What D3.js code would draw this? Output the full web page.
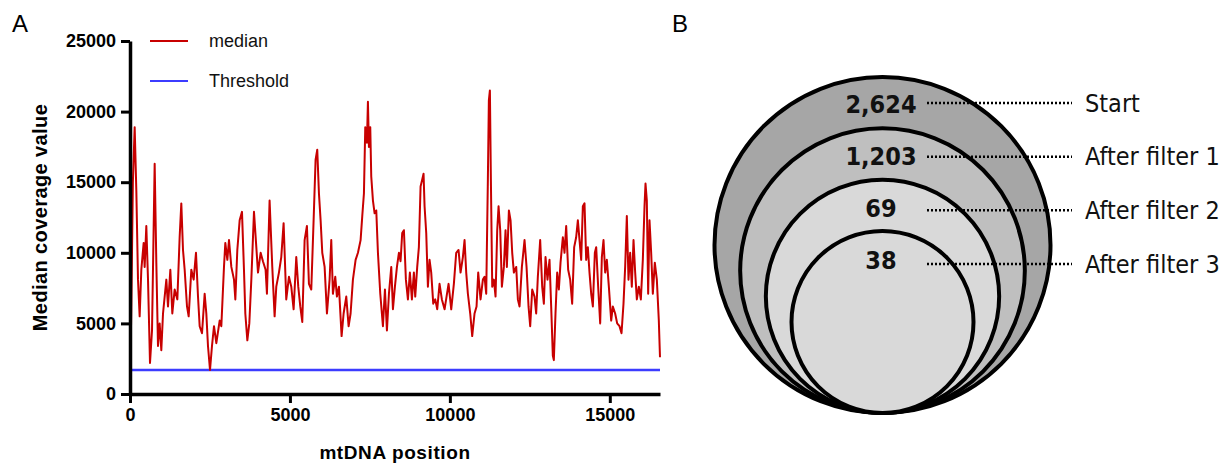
<!DOCTYPE html>
<html>
<head>
<meta charset="utf-8">
<script src="https://cdn.jsdelivr.net/npm/d3@7"></script>
<style>
  body { margin: 0; background: #fff; }
  svg { display: block; }
</style>
</head>
<body>
<div id="chart"></div>
<script>
// panel A: median coverage along the mtDNA
const positions = [
  0, 40, 90, 146, 198, 250, 302, 354, 427, 458, 510, 563, 625, 688, 771, 823, 875, 927, 979, 1032,
  1136, 1188, 1261, 1323, 1396, 1480, 1552, 1604, 1657, 1709, 1782, 1834, 1917, 1990, 2063, 2126, 2178, 2251, 2334, 2386,
  2438, 2501, 2563, 2626, 2699, 2803, 2855, 2938, 2980, 3043, 3095, 3168, 3251, 3293, 3355, 3428, 3501, 3563, 3605, 3668,
  3730, 3793, 3876, 3949, 4001, 4084, 4156, 4239, 4281, 4364, 4448, 4521, 4573, 4656, 4729, 4802, 4885, 4969, 5042, 5115,
  5198, 5260, 5323, 5386, 5459, 5531, 5594, 5667, 5740, 5802, 5854, 5907, 5959, 6011, 6084, 6157, 6240, 6292, 6344, 6417,
  6469, 6532, 6615, 6678, 6761, 6834, 6896, 6969, 7053, 7126, 7209, 7261, 7313, 7355, 7407, 7438, 7470, 7511, 7542, 7595,
  7647, 7699, 7751, 7824, 7907, 7970, 8032, 8095, 8168, 8220, 8282, 8345, 8407, 8458, 8510, 8563, 8625, 8688, 8750, 8813,
  8875, 8917, 8979, 9031, 9084, 9136, 9177, 9209, 9261, 9313, 9365, 9417, 9480, 9542, 9605, 9677, 9750, 9834, 9896, 9959,
  10042, 10125, 10198, 10271, 10334, 10407, 10459, 10511, 10563, 10636, 10698, 10771, 10834, 10886, 10959, 11032, 11084, 11136, 11188, 11219,
  11251, 11282, 11324, 11375, 11428, 11480, 11522, 11574, 11626, 11688, 11740, 11782, 11845, 11897, 11949, 12001, 12074, 12126, 12178, 12251,
  12334, 12397, 12459, 12511, 12574, 12646, 12698, 12750, 12823, 12886, 12938, 12990, 13052, 13115, 13167, 13219, 13250, 13302, 13355, 13407,
  13459, 13532, 13584, 13636, 13698, 13761, 13823, 13886, 13948, 14001, 14053, 14105, 14157, 14209, 14261, 14313, 14365, 14418, 14470, 14532,
  14574, 14636, 14699, 14751, 14803, 14855, 14907, 14970, 15043, 15095, 15167, 15230, 15303, 15366, 15428, 15480, 15532, 15584, 15636, 15688,
  15741, 15793, 15845, 15907, 15970, 16032, 16085, 16116, 16157, 16199, 16241, 16293, 16345, 16407, 16470, 16532, 16569
];
const medians = [
  0, 6000, 15000, 18900, 14400, 8100, 5500, 8800, 10700, 9000, 11900, 8100, 2200, 4500, 16300, 9300, 3400, 5000, 3100, 5700,
  8100, 6200, 8800, 5700, 7400, 6700, 11100, 13500, 10200, 8800, 6200, 5500, 8800, 8100, 10000, 6900, 4800, 4300, 7100, 5700,
  3400, 1700, 3400, 4800, 3600, 5200, 4800, 9000, 10700, 9500, 10900, 9000, 8100, 6700, 10200, 12300, 12900, 8800, 5700, 3800,
  5000, 8100, 12900, 10400, 8600, 10000, 9400, 8800, 7100, 13700, 9000, 5500, 7600, 8600, 9700, 12100, 6700, 8300, 7600, 6000,
  9700, 7600, 6200, 5100, 10900, 11900, 7800, 7400, 12300, 16600, 17300, 14200, 12300, 10000, 9000, 5700, 8100, 10900, 7100, 8300,
  6900, 7600, 4100, 5700, 6900, 4800, 5700, 8100, 9500, 10000, 10900, 12600, 14200, 18900, 17800, 20700, 17500, 18900, 15400, 13700,
  12800, 13000, 10000, 7100, 4800, 7400, 4500, 7100, 9000, 6000, 7600, 9000, 10000, 9400, 11400, 11600, 8100, 6700, 8600, 6700,
  8600, 6900, 9000, 10400, 14700, 15200, 15600, 13300, 11400, 7600, 9500, 8600, 6400, 6700, 6000, 7800, 6700, 6000, 6900, 7800,
  6000, 7800, 10000, 10200, 8600, 9700, 10900, 8600, 7100, 5700, 4100, 5700, 6200, 8600, 6700, 8100, 8300, 7100, 15200, 20800,
  21500, 15200, 7600, 8100, 6900, 11600, 13300, 11600, 7600, 9000, 11600, 9000, 13000, 12300, 10000, 8600, 9000, 6700, 6200, 9000,
  10900, 9000, 6200, 4800, 7400, 6900, 5700, 8300, 10900, 7600, 6400, 9700, 8100, 9500, 6200, 2700, 2400, 5700, 8600, 7400,
  9300, 11100, 10000, 11900, 8800, 8100, 6400, 10400, 11100, 12300, 10900, 9500, 13300, 13500, 9500, 10400, 8600, 7100, 6200, 10000,
  10400, 7600, 5000, 9700, 10900, 8600, 9500, 7600, 5200, 6200, 5700, 5000, 4800, 4300, 6400, 9000, 12600, 8100, 10000, 7600,
  10900, 8600, 6700, 7600, 6700, 9500, 13300, 14900, 13700, 7100, 12300, 10000, 7100, 9300, 8100, 5200, 2600
];
const threshold = 1700;
const yTicks = [0, 5000, 10000, 15000, 20000, 25000];
const xTicks = [0, 5000, 10000, 15000];
const legendItems = [
  {name: "median", color: "#c80000"},
  {name: "Threshold", color: "#3c3cff"}
];

// panel B: nested filter circles
const stages = ["Start", "After filter 1", "After filter 2", "After filter 3"];
const counts = [2624, 1203, 69, 38];
const stageFills = ["#a6a6a6", "#bfbfbf", "#d9d9d9", "#d9d9d9"];

const width = 1230;
const height = 463;

const svg = d3.select("#chart").append("svg")
  .attr("width", width)
  .attr("height", height)
  .attr("viewBox", [0, 0, width, height]);

svg.append("rect")
  .attr("width", width)
  .attr("height", height)
  .attr("fill", "#fff");

const sans = "'Liberation Sans', Arial, sans-serif";

const x = d3.scaleLinear()
  .domain([0, 16569])
  .range([130, 660]);

const y = d3.scaleLinear()
  .domain([0, 25000])
  .range([394, 41]);

const line = d3.line()
  .x((d, i) => x(positions[i]))
  .y(d => y(d));

svg.append("line")
  .attr("x1", x(0))
  .attr("x2", x(16569))
  .attr("y1", y(threshold))
  .attr("y2", y(threshold))
  .attr("stroke", legendItems[1].color)
  .attr("stroke-width", 2.5);

svg.append("path")
  .datum(medians)
  .attr("fill", "none")
  .attr("stroke", legendItems[0].color)
  .attr("stroke-width", 2)
  .attr("stroke-linejoin", "round")
  .attr("d", line);

const styleAxis = g => g
  .call(g => g.select(".domain").attr("stroke-width", 3.5))
  .call(g => g.selectAll(".tick line").attr("stroke-width", 3))
  .call(g => g.selectAll(".tick text")
    .attr("font-family", sans)
    .attr("font-size", 18)
    .attr("font-weight", "bold")
    .attr("fill", "#000"));

svg.append("g")
  .attr("transform", `translate(${x(0)},0)`)
  .call(d3.axisLeft(y).tickValues(yTicks).tickFormat(d3.format("d")).tickSize(9).tickSizeOuter(0).tickPadding(5))
  .call(styleAxis);

svg.append("g")
  .attr("transform", `translate(0,${y(0)})`)
  .call(d3.axisBottom(x).tickValues(xTicks).tickFormat(d3.format("d")).tickSize(9).tickSizeOuter(0).tickPadding(5))
  .call(styleAxis);

svg.append("text")
  .attr("transform", `translate(40,${(y(0) + y(25000)) / 2}) rotate(-90)`)
  .attr("text-anchor", "middle")
  .attr("dominant-baseline", "central")
  .attr("font-family", sans)
  .attr("font-size", 20)
  .attr("font-weight", "bold")
  .attr("letter-spacing", 0.4)
  .text("Median coverage value");

svg.append("text")
  .attr("x", (x(0) + x(16569)) / 2)
  .attr("y", 452)
  .attr("text-anchor", "middle")
  .attr("dominant-baseline", "central")
  .attr("font-family", sans)
  .attr("font-size", 19)
  .attr("font-weight", "bold")
  .attr("letter-spacing", 0.6)
  .text("mtDNA position");

const legend = svg.append("g")
  .selectAll("g")
  .data(legendItems)
  .join("g")
    .attr("transform", (d, i) => `translate(150,${41 + i * 40})`);

legend.append("line")
  .attr("x2", 38)
  .attr("stroke", d => d.color)
  .attr("stroke-width", 2);

legend.append("text")
  .attr("x", 59)
  .attr("dominant-baseline", "central")
  .attr("font-family", sans)
  .attr("font-size", 18)
  .attr("fill", "#111")
  .text(d => d.name);

svg.append("g")
  .attr("font-family", sans)
  .attr("font-size", 24)
  .selectAll("text")
  .data([["A", 12], ["B", 672]])
  .join("text")
    .attr("x", d => d[1])
    .attr("y", 32)
    .text(d => d[0]);

// panel B
const cx = 882.5;
const bottom = 413;
const radius = d3.scaleLinear().domain([0, stages.length - 1]).range([168, 91]);
const numberY = d3.scaleLinear().domain([0, stages.length - 1]).range([104, 260.5]);
const rowY = d3.scaleLinear().domain([0, stages.length - 1]).range([103, 264]);
const tahoma = "'DejaVu Sans Condensed', 'DejaVu Sans', sans-serif";

svg.append("g")
  .selectAll("circle")
  .data(counts)
  .join("circle")
    .attr("cx", cx)
    .attr("cy", (d, i) => bottom - radius(i))
    .attr("r", (d, i) => radius(i))
    .attr("fill", (d, i) => stageFills[i])
    .attr("stroke", "#000")
    .attr("stroke-width", 4);

svg.append("g")
  .selectAll("line")
  .data(stages)
  .join("line")
    .attr("x1", 927)
    .attr("x2", 1072)
    .attr("y1", (d, i) => rowY(i))
    .attr("y2", (d, i) => rowY(i))
    .attr("stroke", "#000")
    .attr("stroke-width", 2.5)
    .attr("stroke-dasharray", "2,2");

svg.append("g")
  .selectAll("text")
  .data(counts)
  .join("text")
    .attr("x", 881)
    .attr("y", (d, i) => numberY(i))
    .attr("text-anchor", "middle")
    .attr("dominant-baseline", "central")
    .attr("font-family", tahoma)
    .attr("font-stretch", "condensed")
    .attr("font-weight", "bold")
    .attr("font-size", 25)
    .attr("fill", "#111")
    .text(d => d3.format(",")(d));

svg.append("g")
  .selectAll("text")
  .data(stages)
  .join("text")
    .attr("x", 1085)
    .attr("y", (d, i) => rowY(i))
    .attr("dominant-baseline", "central")
    .attr("font-family", tahoma)
    .attr("font-stretch", "condensed")
    .attr("font-size", 25)
    .attr("fill", "#111")
    .text(d => d);
</script>
</body>
</html>
